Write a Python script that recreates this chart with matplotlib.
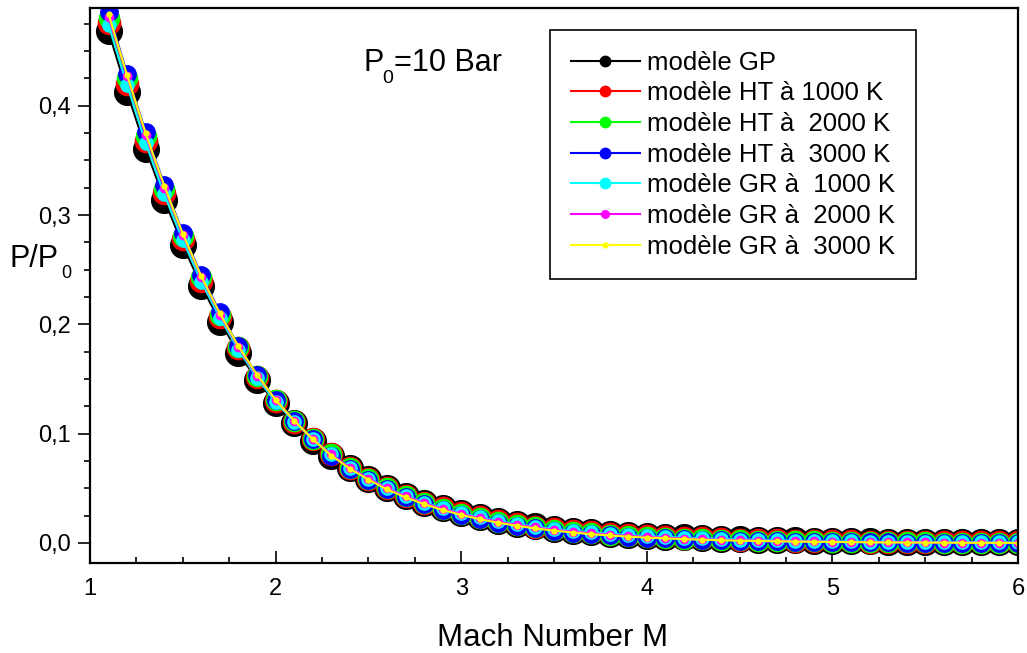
import matplotlib
matplotlib.use("Agg")
import matplotlib.pyplot as plt
from matplotlib.lines import Line2D
from matplotlib.ticker import MultipleLocator, FuncFormatter

plt.rcParams['font.family'] = ['Liberation Sans', 'DejaVu Sans']

mach = [1.1, 1.2, 1.3, 1.4, 1.5, 1.6, 1.7, 1.8, 1.9, 2.0,
        2.1, 2.2, 2.3, 2.4, 2.5, 2.6, 2.7, 2.8, 2.9, 3.0,
        3.1, 3.2, 3.3, 3.4, 3.5, 3.6, 3.7, 3.8, 3.9, 4.0,
        4.1, 4.2, 4.3, 4.4, 4.5, 4.6, 4.7, 4.8, 4.9, 5.0,
        5.1, 5.2, 5.3, 5.4, 5.5, 5.6, 5.7, 5.8, 5.9, 6.0]

gp = [0.4684, 0.4124, 0.3609, 0.3142, 0.2724, 0.2353, 0.2026, 0.1740, 0.1492, 0.1278,
      0.1094, 0.0935, 0.0800, 0.0684, 0.0585, 0.0501, 0.0429, 0.0368, 0.0317, 0.0272,
      0.0235, 0.0202, 0.0175, 0.0151, 0.0131, 0.0114, 0.0099, 0.0086, 0.0075, 0.0066,
      0.0058, 0.0051, 0.0044, 0.0039, 0.0035, 0.0031, 0.0027, 0.0024, 0.0021, 0.0019,
      0.0017, 0.0015, 0.0013, 0.0012, 0.0011, 0.0010, 0.0009, 0.0008, 0.0007, 0.0006]

ht1000 = [0.476, 0.420, 0.368, 0.320, 0.278, 0.240, 0.207, 0.178, 0.152, 0.130,
          0.111, 0.095, 0.081, 0.069, 0.059, 0.0505, 0.0432, 0.0370, 0.0318, 0.0272,
          0.0234, 0.0201, 0.0173, 0.0149, 0.0129, 0.0112, 0.0097, 0.0084, 0.0073, 0.0063,
          0.0055, 0.0048, 0.0042, 0.0036, 0.0032, 0.0028, 0.0024, 0.0021, 0.0019, 0.0016,
          0.0014, 0.0013, 0.0011, 0.0010, 0.0009, 0.0008, 0.0007, 0.0006, 0.0005, 0.0005]

ht2000 = [0.480, 0.425, 0.372, 0.324, 0.281, 0.243, 0.209, 0.179, 0.153, 0.131,
          0.112, 0.095, 0.081, 0.069, 0.059, 0.0500, 0.0428, 0.0365, 0.0312, 0.0266,
          0.0227, 0.0194, 0.0166, 0.0142, 0.0121, 0.0104, 0.0089, 0.0076, 0.0065, 0.0056,
          0.0048, 0.0041, 0.0035, 0.0030, 0.0026, 0.0022, 0.0019, 0.0016, 0.0014, 0.0012,
          0.0010, 0.0009, 0.0007, 0.0006, 0.0005, 0.0004, 0.0003, 0.0003, 0.0002, 0.0002]

ht3000 = [0.486, 0.429, 0.376, 0.328, 0.284, 0.245, 0.211, 0.180, 0.154, 0.131,
          0.112, 0.095, 0.080, 0.068, 0.058, 0.0490, 0.0418, 0.0355, 0.0302, 0.0257,
          0.0218, 0.0185, 0.0157, 0.0133, 0.0113, 0.0096, 0.0081, 0.0069, 0.0058, 0.0049,
          0.0042, 0.0035, 0.0030, 0.0025, 0.0021, 0.0018, 0.0015, 0.0013, 0.0011, 0.0009,
          0.0008, 0.0006, 0.0005, 0.0004, 0.0004, 0.0003, 0.0002, 0.0002, 0.0001, 0.0001]

gr1000 = [0.474, 0.419, 0.366, 0.319, 0.277, 0.239, 0.206, 0.177, 0.151, 0.129,
          0.111, 0.095, 0.081, 0.069, 0.059, 0.0505, 0.0432, 0.0370, 0.0318, 0.0272,
          0.0234, 0.0201, 0.0173, 0.0149, 0.0129, 0.0112, 0.0097, 0.0084, 0.0073, 0.0063,
          0.0055, 0.0048, 0.0042, 0.0036, 0.0032, 0.0028, 0.0024, 0.0021, 0.0019, 0.0016,
          0.0014, 0.0013, 0.0011, 0.0010, 0.0009, 0.0008, 0.0007, 0.0006, 0.0005, 0.0005]

gr2000 = [0.481, 0.427, 0.373, 0.325, 0.282, 0.243, 0.209, 0.179, 0.153, 0.131,
          0.112, 0.095, 0.081, 0.069, 0.059, 0.0500, 0.0428, 0.0365, 0.0312, 0.0266,
          0.0227, 0.0194, 0.0166, 0.0142, 0.0121, 0.0104, 0.0089, 0.0076, 0.0065, 0.0056,
          0.0048, 0.0041, 0.0035, 0.0030, 0.0026, 0.0022, 0.0019, 0.0016, 0.0014, 0.0012,
          0.0010, 0.0009, 0.0007, 0.0006, 0.0005, 0.0004, 0.0003, 0.0003, 0.0002, 0.0002]

gr3000 = [0.484, 0.428, 0.375, 0.327, 0.283, 0.244, 0.210, 0.180, 0.154, 0.131,
          0.112, 0.095, 0.080, 0.068, 0.058, 0.0490, 0.0418, 0.0355, 0.0302, 0.0257,
          0.0218, 0.0185, 0.0157, 0.0133, 0.0113, 0.0096, 0.0081, 0.0069, 0.0058, 0.0049,
          0.0042, 0.0035, 0.0030, 0.0025, 0.0021, 0.0018, 0.0015, 0.0013, 0.0011, 0.0009,
          0.0008, 0.0006, 0.0005, 0.0004, 0.0004, 0.0003, 0.0002, 0.0002, 0.0001, 0.0001]

labels = ["modèle GP", "modèle HT à 1000 K", "modèle HT à  2000 K", "modèle HT à  3000 K",
          "modèle GR à  1000 K", "modèle GR à  2000 K", "modèle GR à  3000 K"]
series = [gp, ht1000, ht2000, ht3000, gr1000, gr2000, gr3000]
colors = ["#000000", "#ff0000", "#00ff00", "#0000ff", "#00ffff", "#ff00ff", "#ffff00"]
msizes = [18.5, 16, 14.5, 12.5, 9.5, 6, 3.5]
leg_msizes = [7.5, 7.5, 7.5, 7.5, 7.5, 5.5, 3.5]

W, H = 1027, 653
fig = plt.figure(figsize=(W / 100, H / 100), dpi=100)
ax = fig.add_axes([90 / W, 90 / H, 928 / W, 555 / H])

for y, c, ms in zip(series, colors, msizes):
    ax.plot(mach, y, color=c, lw=1.5, marker='o', ms=ms, mec=c, mfc=c)

ax.set_xlim(1, 6)
ax.set_ylim(-0.0183, 0.4895)
ax.xaxis.set_major_locator(MultipleLocator(1))
ax.xaxis.set_minor_locator(MultipleLocator(0.25))
ax.yaxis.set_major_locator(MultipleLocator(0.1))
ax.yaxis.set_minor_locator(MultipleLocator(0.025))
ax.yaxis.set_major_formatter(FuncFormatter(lambda v, p: f"{abs(v):.1f}".replace('.', ',')))
ax.tick_params(axis='x', which='major', direction='in', length=8.5, width=1.2, labelsize=17, pad=11, top=False)
ax.tick_params(axis='x', which='minor', direction='in', length=4.5, width=1.2, top=False)
ax.tick_params(axis='y', which='major', direction='out', length=8.5, width=1.2, labelsize=17, pad=5, right=False)
ax.tick_params(axis='y', which='minor', direction='out', length=4.5, width=1.2, right=False)
for s in ax.spines.values():
    s.set_linewidth(1.6)

handles = [Line2D([], [], color=c, lw=1.5, marker='o', ms=m, mec=c, mfc=c)
           for c, m in zip(colors, leg_msizes)]
leg = ax.legend(handles, labels, loc='upper left', bbox_to_anchor=(0.4957, 0.9604),
                fontsize=18.5, frameon=True, fancybox=False, framealpha=1,
                edgecolor='black', handlelength=2.7, handletextpad=0.28,
                labelspacing=0.26, borderpad=0.8, borderaxespad=0)
leg.get_frame().set_linewidth(1.2)


def ftext(x, y, s, size):
    return fig.text(x / W, 1 - y / H, s, fontsize=size, ha='left', va='baseline')


# annotation P0 = 10 Bar
ftext(363, 71, 'P', 22)
ftext(382, 83, '0', 14)
ftext(394, 71, '=10 Bar', 22)

# y label P/P0
ftext(10, 267, 'P/P', 22)
ftext(61, 278, '0', 13)

# x label
fig.text(553 / W, 1 - 646 / H, 'Mach Number M', fontsize=22.5, ha='center', va='baseline')

fig.savefig('out.png', dpi=100)
